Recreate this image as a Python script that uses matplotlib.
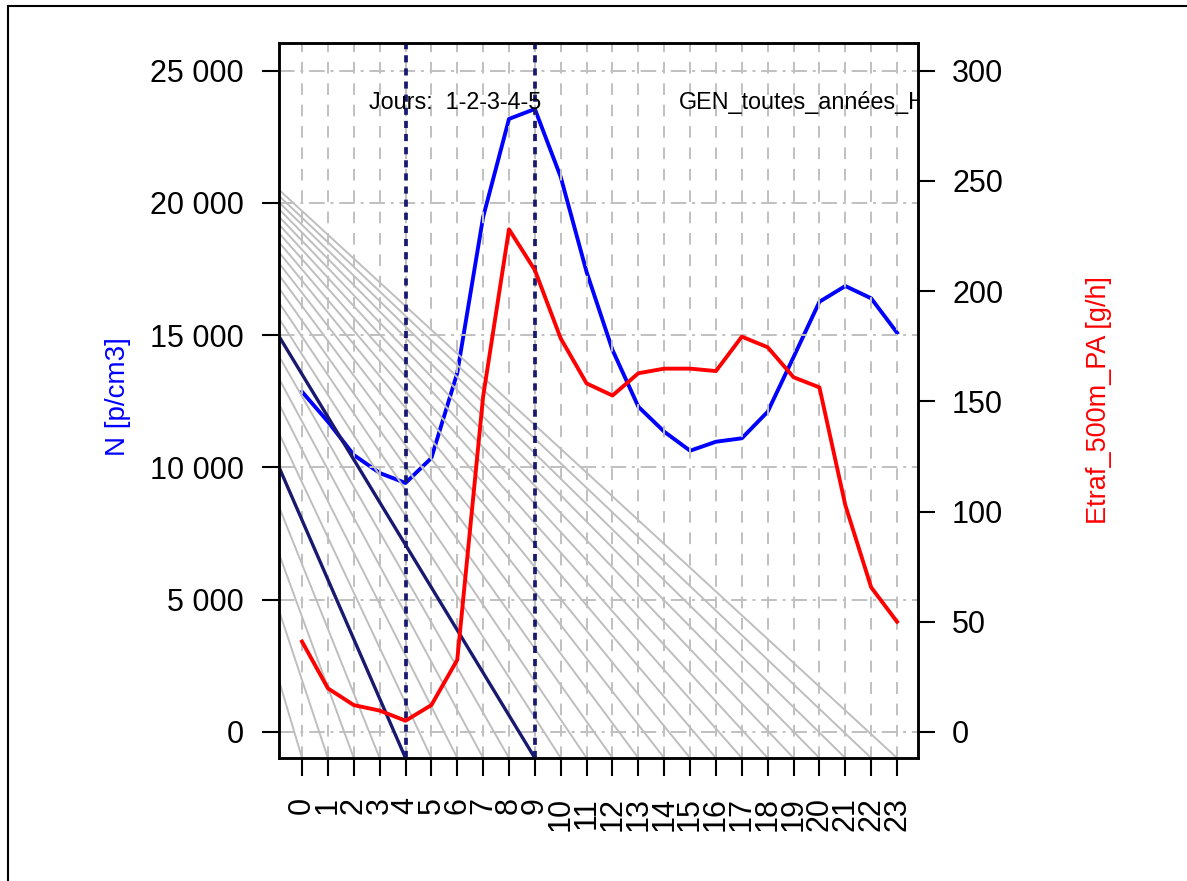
import numpy as np
import matplotlib.pyplot as plt
from matplotlib.patches import Rectangle
from matplotlib.ticker import FuncFormatter

plt.rcParams['font.family'] = ['Liberation Sans', 'DejaVu Sans']

# heures et séries
heures = list(range(24))
n_pcm3 = [12860, 11730, 10470, 9790, 9410, 10355, 13570, 19460, 23170, 23545,
          20975, 17385, 14440, 12295, 11350, 10630, 10970, 11100, 12105, 14170,
          16260, 16855, 16390, 15090]
etraf = [41.0, 19.8, 12.2, 9.7, 5.1, 12.2, 32.7, 152.1, 228.0, 209.5,
         178.5, 158.1, 152.6, 162.7, 164.8, 164.8, 163.7, 179.3, 174.5, 160.9,
         156.3, 102.9, 65.6, 50.0]
heures_marquees = [4, 9]
yticks_g = [0, 5000, 10000, 15000, 20000, 25000]
yticks_d = [0, 50, 100, 150, 200, 250, 300]
fan_origine = (-8.66, 27475)

fig = plt.figure(figsize=(11.87, 8.81), dpi=100)
ax = fig.add_axes([279/1187, 1-758/881, 639/1187, 715/881])

ax.set_xlim(-0.89, 23.81)
ax.set_ylim(-983, 26040)

# série N (sous la grille, comme dans R)
ax.plot(heures, n_pcm3, color='blue', lw=2.8, zorder=1)

# grille
for h in heures:
    ax.axvline(h, color='#c0c0c0', lw=1.4, ls=(0, (6, 5)), zorder=2)
for v in yticks_g:
    ax.axhline(v, color='#c0c0c0', lw=1.4, ls=(0, (8, 3, 1.5, 3)), zorder=2)

# faisceau de droites
y0 = ax.get_ylim()[0]
for h in heures:
    ax.plot([fan_origine[0], h], [fan_origine[1], y0], color='#bebebe', lw=1.4, zorder=2)
for h in heures_marquees:
    ax.plot([fan_origine[0], h], [fan_origine[1], y0], color='midnightblue', lw=2.4, zorder=3)
    ax.axvline(h, color='midnightblue', lw=2.7, ls=(0, (1.9, 1.6)), zorder=3)

ax.text(5.9, 23810, 'Jours:  1-2-3-4-5', fontsize=16.8, ha='center', va='center', zorder=5)
ax.text(14.57, 23810, 'GEN_toutes_années_H', fontsize=16.8, ha='left', va='center',
        clip_on=True, zorder=5)

ax.set_xticks(heures)
ax.set_xticklabels([str(h) for h in heures], rotation=90, fontsize=22, va='top')
ax.set_yticks(yticks_g)
ax.yaxis.set_major_formatter(FuncFormatter(lambda v, p: f'{int(v):,}'.replace(',', ' ')))
ax.tick_params(axis='y', labelsize=22, length=12.5, width=1.5, pad=13)
ax.tick_params(axis='x', length=13, width=1.5, pad=15)
ax.set_ylabel('N [p/cm3]', color='blue', fontsize=20)
ax.yaxis.set_label_coords(-0.232, 0.506)
for s in ax.spines.values():
    s.set_linewidth(1.8)

ax2 = ax.twinx()
ax2.set_ylim(-11.8, 312.5)
ax2.plot(heures, etraf, color='red', lw=2.8)
ax2.set_yticks(yticks_d)
ax2.tick_params(axis='y', labelsize=22, length=12.5, width=1.5, pad=12)
ax2.set_ylabel('Etraf_500m_PA [g/h]', color='red', fontsize=19.5)
ax2.yaxis.set_label_coords(1.263, 0.5)
for s in ax2.spines.values():
    s.set_linewidth(1.8)

fig.patches.append(Rectangle((8/1187, -0.05), 1.05, 1-6/881+0.05, transform=fig.transFigure,
                             fill=False, lw=1.5, edgecolor='black'))

fig.savefig('out.png', dpi=100)
